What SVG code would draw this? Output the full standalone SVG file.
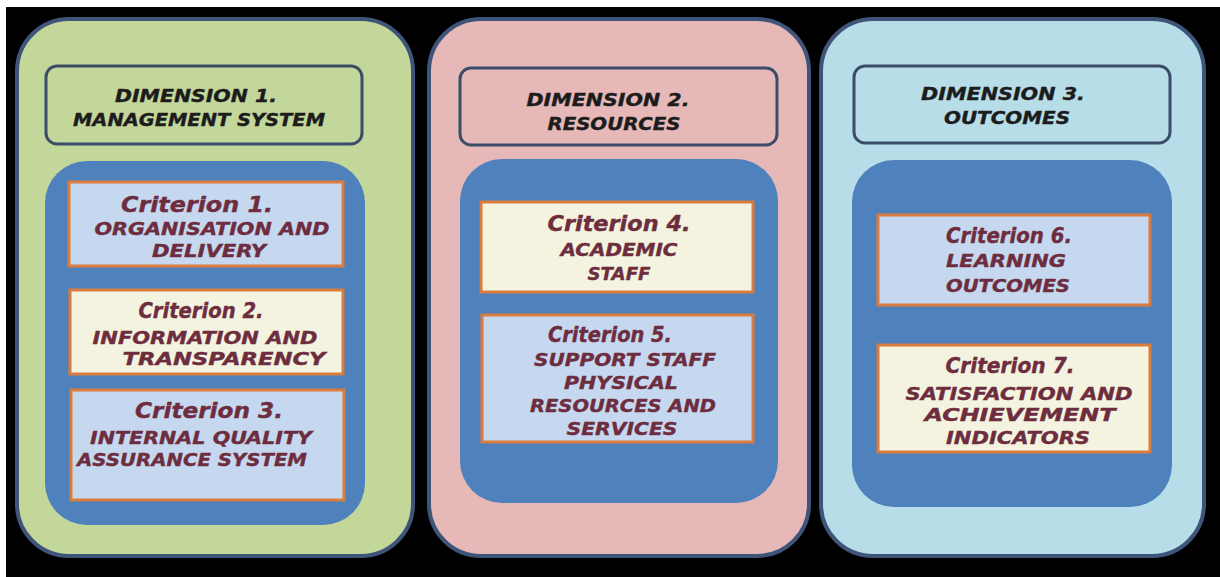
<svg xmlns="http://www.w3.org/2000/svg" width="1220" height="577" viewBox="0 0 1220 577">
<style>
.panel{stroke:#3e5478;stroke-width:4}
.hdr{stroke:#3a4c68;stroke-width:3}
.inner{fill:#4f81bd}
.crit{stroke:#d97c3e;stroke-width:3}
.cb{fill:#c6d8f0}
.cc{fill:#f3f3df}
.ht{font-family:"DejaVu Sans",Verdana,sans-serif;font-weight:bold;font-style:italic;font-size:18px;fill:#1c1c1c;stroke:#1c1c1c;stroke-width:0.4;text-anchor:middle}
.ct{font-family:"DejaVu Sans",Verdana,sans-serif;font-weight:bold;font-style:italic;font-size:18px;fill:#6e2d3e;stroke:#6e2d3e;stroke-width:0.4;text-anchor:middle}
.cn{font-size:21px}
</style>
<rect x="0" y="0" width="1220" height="577" fill="#ffffff"/>
<rect x="6" y="7" width="1214" height="570" fill="#000000"/>

<g id="dimension1">
<rect class="panel" x="17" y="19" width="396" height="537" rx="52" fill="#c4d79b"/>
<rect class="hdr" x="46" y="66" width="316" height="78" rx="11" fill="#c4d79b"/>
<text class="ht" x="196" y="102" textLength="162" lengthAdjust="spacingAndGlyphs">DIMENSION 1.</text>
<text class="ht" x="199" y="126" textLength="252" lengthAdjust="spacingAndGlyphs">MANAGEMENT SYSTEM</text>
<rect class="inner" x="45" y="161" width="320" height="364" rx="42"/>
</g>
<g id="criterion1">
<rect class="crit cb" x="69" y="182" width="274" height="84"/>
<text class="ct cn" x="197" y="212" textLength="152" lengthAdjust="spacingAndGlyphs">Criterion 1.</text>
<text class="ct" x="212" y="235" textLength="235" lengthAdjust="spacingAndGlyphs">ORGANISATION AND</text>
<text class="ct" x="209" y="257" textLength="114" lengthAdjust="spacingAndGlyphs">DELIVERY</text>
</g>
<g id="criterion2">
<rect class="crit cc" x="70" y="290" width="273" height="84"/>
<text class="ct cn" x="201" y="318" textLength="125" lengthAdjust="spacingAndGlyphs">Criterion 2.</text>
<text class="ct" x="205" y="344" textLength="225" lengthAdjust="spacingAndGlyphs">INFORMATION AND</text>
<text class="ct" x="224" y="365" textLength="203" lengthAdjust="spacingAndGlyphs">TRANSPARENCY</text>
</g>
<g id="criterion3">
<rect class="crit cb" x="71" y="390" width="273" height="110"/>
<text class="ct cn" x="209" y="418" textLength="148" lengthAdjust="spacingAndGlyphs">Criterion 3.</text>
<text class="ct" x="201" y="444" textLength="222" lengthAdjust="spacingAndGlyphs">INTERNAL QUALITY</text>
<text class="ct" x="192" y="466" textLength="230" lengthAdjust="spacingAndGlyphs">ASSURANCE SYSTEM</text>
</g>

<g id="dimension2">
<rect class="panel" x="429" y="19" width="380" height="537" rx="52" fill="#e6b8b7"/>
<rect class="hdr" x="460" y="68" width="317" height="77" rx="11" fill="#e6b8b7"/>
<text class="ht" x="608" y="106" textLength="163" lengthAdjust="spacingAndGlyphs">DIMENSION 2.</text>
<text class="ht" x="614" y="130" textLength="133" lengthAdjust="spacingAndGlyphs">RESOURCES</text>
<rect class="inner" x="460" y="159" width="318" height="344" rx="42"/>
</g>
<g id="criterion4">
<rect class="crit cc" x="481" y="202" width="272" height="90"/>
<text class="ct cn" x="619" y="231" textLength="143" lengthAdjust="spacingAndGlyphs">Criterion 4.</text>
<text class="ct" x="619" y="256" textLength="117" lengthAdjust="spacingAndGlyphs">ACADEMIC</text>
<text class="ct" x="619" y="280" textLength="63" lengthAdjust="spacingAndGlyphs">STAFF</text>
</g>
<g id="criterion5">
<rect class="crit cb" x="482" y="315" width="271" height="127"/>
<text class="ct cn" x="610" y="342" textLength="124" lengthAdjust="spacingAndGlyphs">Criterion 5.</text>
<text class="ct" x="625" y="366" textLength="182" lengthAdjust="spacingAndGlyphs">SUPPORT STAFF</text>
<text class="ct" x="621" y="389" textLength="114" lengthAdjust="spacingAndGlyphs">PHYSICAL</text>
<text class="ct" x="623" y="412" textLength="186" lengthAdjust="spacingAndGlyphs">RESOURCES AND</text>
<text class="ct" x="622" y="435" textLength="111" lengthAdjust="spacingAndGlyphs">SERVICES</text>
</g>

<g id="dimension3">
<rect class="panel" x="821" y="19" width="383" height="537" rx="52" fill="#b7dde8"/>
<rect class="hdr" x="854" y="66" width="316" height="77" rx="11" fill="#b7dde8"/>
<text class="ht" x="1003" y="100" textLength="164" lengthAdjust="spacingAndGlyphs">DIMENSION 3.</text>
<text class="ht" x="1007" y="124" textLength="126" lengthAdjust="spacingAndGlyphs">OUTCOMES</text>
<rect class="inner" x="852" y="160" width="320" height="347" rx="42"/>
</g>
<g id="criterion6">
<rect class="crit cb" x="878" y="215" width="272" height="90"/>
<text class="ct cn" x="1009" y="243" textLength="126" lengthAdjust="spacingAndGlyphs">Criterion 6.</text>
<text class="ct" x="1006" y="267" textLength="120" lengthAdjust="spacingAndGlyphs">LEARNING</text>
<text class="ct" x="1008" y="292" textLength="124" lengthAdjust="spacingAndGlyphs">OUTCOMES</text>
</g>
<g id="criterion7">
<rect class="crit cc" x="878" y="345" width="272" height="107"/>
<text class="ct cn" x="1010" y="373" textLength="129" lengthAdjust="spacingAndGlyphs">Criterion 7.</text>
<text class="ct" x="1019" y="400" textLength="227" lengthAdjust="spacingAndGlyphs">SATISFACTION AND</text>
<text class="ct" x="1020" y="421" textLength="191" lengthAdjust="spacingAndGlyphs">ACHIEVEMENT</text>
<text class="ct" x="1018" y="444" textLength="144" lengthAdjust="spacingAndGlyphs">INDICATORS</text>
</g>
<g id="connectors"></g>
</svg>
